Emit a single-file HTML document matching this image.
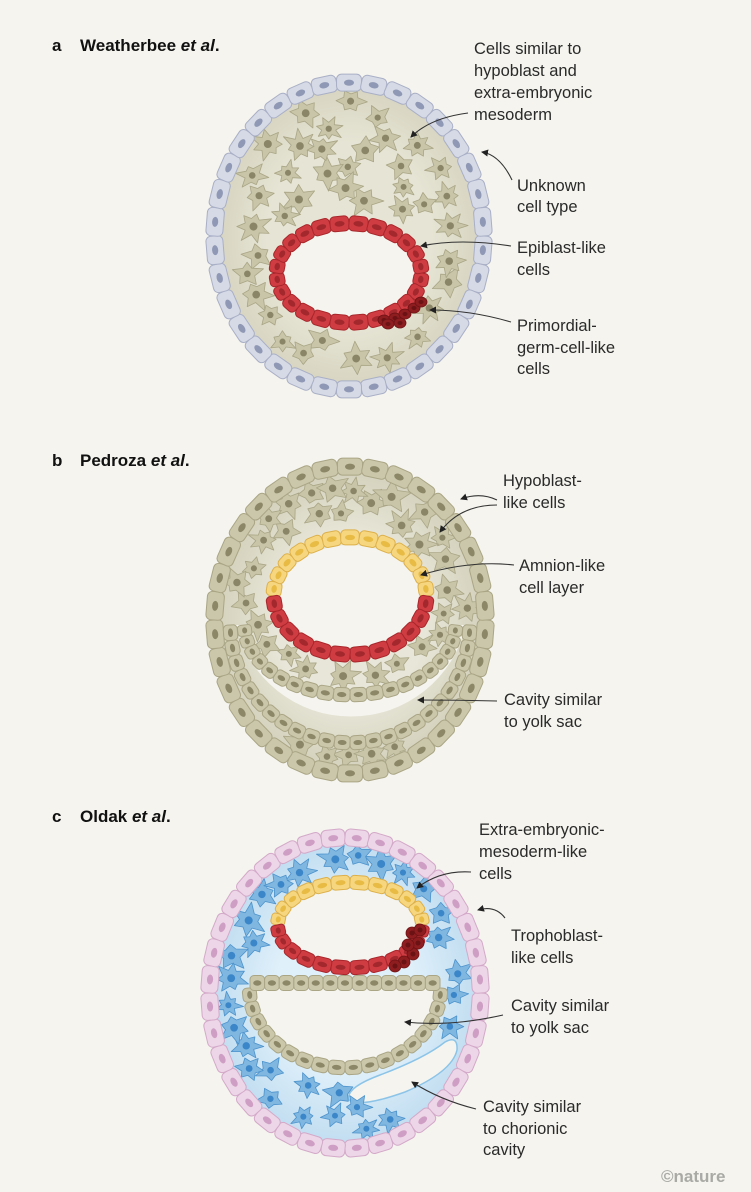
<!DOCTYPE html>
<html><head><meta charset="utf-8">
<style>
html,body{margin:0;padding:0;background:#f5f4ee;}
svg{display:block;}
text{font-family:"Liberation Sans",sans-serif;fill:#2a2a2a;}
.lb{font-size:16.5px;}
.h{font-size:17px;font-weight:bold;fill:#111;}
</style></head>
<body>
<svg id="s" width="751" height="1192" viewBox="0 0 751 1192" xmlns="http://www.w3.org/2000/svg">
<defs>
<marker id="ah" markerWidth="8" markerHeight="8" refX="6" refY="4" orient="auto" markerUnits="userSpaceOnUse">
<path d="M0,0.5 L7,4 L0,7.5 Z" fill="#222"/></marker>
<radialGradient id="ga" cx="50%" cy="50%" r="50%"><stop offset="0.6" stop-color="#e6e4d4"/><stop offset="1" stop-color="#d6d4bf"/></radialGradient>
<radialGradient id="gb" cx="50%" cy="50%" r="50%"><stop offset="0.55" stop-color="#e8e6d8"/><stop offset="1" stop-color="#d3d1bb"/></radialGradient>
<radialGradient id="gc" cx="50%" cy="50%" r="50%"><stop offset="0.5" stop-color="#e0f0fa"/><stop offset="1" stop-color="#bfdcf0"/></radialGradient>
</defs>
<g id="art"></g>
<g id="labels">
<text class="h" x="52" y="51">a</text><text class="h" x="80" y="51">Weatherbee <tspan font-style="italic">et al</tspan>.</text>
<text class="h" x="52" y="466">b</text><text class="h" x="80" y="466">Pedroza <tspan font-style="italic">et al</tspan>.</text>
<text class="h" x="52" y="822">c</text><text class="h" x="80" y="822">Oldak <tspan font-style="italic">et al</tspan>.</text>

<text class="lb" x="474" y="54">Cells similar to</text>
<text class="lb" x="474" y="76">hypoblast and</text>
<text class="lb" x="474" y="98">extra-embryonic</text>
<text class="lb" x="474" y="120">mesoderm</text>
<text class="lb" x="517" y="191">Unknown</text>
<text class="lb" x="517" y="212">cell type</text>
<text class="lb" x="517" y="253">Epiblast-like</text>
<text class="lb" x="517" y="275">cells</text>
<text class="lb" x="517" y="331">Primordial-</text>
<text class="lb" x="517" y="353">germ-cell-like</text>
<text class="lb" x="517" y="374">cells</text>

<text class="lb" x="503" y="486">Hypoblast-</text>
<text class="lb" x="503" y="508">like cells</text>
<text class="lb" x="519" y="571">Amnion-like</text>
<text class="lb" x="519" y="593">cell layer</text>
<text class="lb" x="504" y="705">Cavity similar</text>
<text class="lb" x="504" y="727">to yolk sac</text>

<text class="lb" x="479" y="835">Extra-embryonic-</text>
<text class="lb" x="479" y="857">mesoderm-like</text>
<text class="lb" x="479" y="879">cells</text>
<text class="lb" x="511" y="941">Trophoblast-</text>
<text class="lb" x="511" y="963">like cells</text>
<text class="lb" x="511" y="1011">Cavity similar</text>
<text class="lb" x="511" y="1033">to yolk sac</text>
<text class="lb" x="483" y="1112">Cavity similar</text>
<text class="lb" x="483" y="1134">to chorionic</text>
<text class="lb" x="483" y="1155">cavity</text>
<text x="661" y="1182" style="font-size:17px;font-weight:bold;fill:#a9a9a6">©nature</text>
</g>
<g id="arrows" fill="none" stroke="#333" stroke-width="1.1" marker-end="url(#ah)">
<path d="M468,113 Q430,118 411,137"/>
<path d="M512,180 Q500,155 482,152"/>
<path d="M511,246 Q460,238 421,246"/>
<path d="M511,322 Q470,310 430,310"/>
<path d="M497,500 Q480,492 461,499"/>
<path d="M497,505 Q460,505 440,532"/>
<path d="M514,565 Q470,560 421,575"/>
<path d="M497,701 Q460,700 418,700"/>
<path d="M471,872 Q440,870 417,888"/>
<path d="M505,918 Q495,905 478,910"/>
<path d="M503,1015 Q450,1027 405,1022"/>
<path d="M476,1109 Q440,1100 412,1082"/>
</g>
</svg>
<script>
(function(){
var NS="http://www.w3.org/2000/svg",art=document.getElementById('art');
function el(t,a,p){var e=document.createElementNS(NS,t);for(var k in a)e.setAttribute(k,a[k]);(p||art).appendChild(e);return e;}
var seed=7;function rnd(){seed=(seed*16807)%2147483647;return (seed-1)/2147483646;}
function ring(cx,cy,rx,ry,a0,a1,n,th,f,s,nf){
  var pts=[];for(var i=0;i<=n;i++){var t=a0+(a1-a0)*i/n;pts.push([cx+rx*Math.cos(t),cy+ry*Math.sin(t)]);}
  for(var i=0;i<n;i++){var p=pts[i],q=pts[i+1];var mx=(p[0]+q[0])/2,my=(p[1]+q[1])/2;
    var L=Math.hypot(q[0]-p[0],q[1]-p[1]);var ang=Math.atan2(q[1]-p[1],q[0]-p[0])*180/Math.PI;
    var g=el('g',{transform:'translate('+mx+','+my+') rotate('+ang+')'});
    el('rect',{x:-L/2,y:-th/2,width:L,height:th,rx:Math.min(L,th)*0.3,fill:f,stroke:s,'stroke-width':1},g);
    el('ellipse',{cx:0,cy:0,rx:Math.min(L*0.28,5),ry:th*0.18,fill:nf},g);}
}
function line(x0,y0,x1,y1,n,th,f,s,nf){
  var L=Math.hypot(x1-x0,y1-y0)/n,ang=Math.atan2(y1-y0,x1-x0)*180/Math.PI;
  for(var i=0;i<n;i++){var mx=x0+(x1-x0)*(i+.5)/n,my=y0+(y1-y0)*(i+.5)/n;
    var g=el('g',{transform:'translate('+mx+','+my+') rotate('+ang+')'});
    el('rect',{x:-L/2,y:-th/2,width:L,height:th,rx:4,fill:f,stroke:s,'stroke-width':1},g);
    el('ellipse',{cx:0,cy:0,rx:Math.min(L*0.28,5),ry:th*0.18,fill:nf},g);}
}
function star(x,y,r,f,s,nf){
  var k=5+Math.floor(rnd()*3),d='',rot=rnd()*6.28;
  for(var i=0;i<k*2;i++){var t=rot+i*Math.PI/k;var rr=(i%2?r*0.62:r*(0.85+rnd()*0.55));d+=(i?'L':'M')+(x+rr*Math.cos(t)).toFixed(1)+','+(y+rr*Math.sin(t)*0.9).toFixed(1);}
  el('path',{d:d+'Z',fill:f,stroke:s,'stroke-width':0.8,'stroke-linejoin':'round'});
  el('circle',{cx:x,cy:y,r:r*0.27,fill:nf});
}
function stars(cx,cy,rx,ry,n,ok,f,s,nf){
  var c=0,tries=0,pl=[];while(c<n&&tries<8000){tries++;var x=cx+(rnd()*2-1)*rx,y=cy+(rnd()*2-1)*ry;
    if(((x-cx)/rx)*((x-cx)/rx)+((y-cy)/ry)*((y-cy)/ry)>1)continue;if(!ok(x,y))continue;
    var bad=false;for(var j=0;j<pl.length;j++){if(Math.hypot(pl[j][0]-x,pl[j][1]-y)<21){bad=true;break;}}
    if(bad)continue;pl.push([x,y]);
    star(x,y,11+rnd()*4,f,s,nf);c++;}
}
function inE(x,y,cx,cy,rx,ry){return ((x-cx)/rx)*((x-cx)/rx)+((y-cy)/ry)*((y-cy)/ry)<1;}

// ---------- Panel a ----------
el('ellipse',{cx:349,cy:236,rx:136,ry:155,fill:'url(#ga)'});
seed=11;
stars(349,236,115,135,40,function(x,y){return !inE(x,y,349,273,92,68);},'#c8c5a8','#a9a586','#8a8566');
ring(349,236,135,154,0,Math.PI*2,34,17,'#d6dae6','#a9afc6','#8f98b4');
el('ellipse',{cx:349,cy:273,rx:66,ry:43,fill:'#f5f4ee'});
ring(349,273,73,50,0,Math.PI*2,24,15,'#cf3d42','#a8262b','#a2282e');
[[384,320],[395,318],[405,314],[414,308],[421,302],[400,323],[388,324]].forEach(function(p){
  el('ellipse',{cx:p[0],cy:p[1],rx:6,ry:5,fill:'#8e1d20',stroke:'#6e1214','stroke-width':0.8});
  el('ellipse',{cx:p[0],cy:p[1],rx:2.5,ry:2,fill:'#6a1214'});});

// ---------- Panel b ----------
el('ellipse',{cx:350,cy:620,rx:137,ry:154,fill:'url(#gb)'});
el('path',{d:'M236,625 A118,118 0 0 0 466,625 L455,625 A105,70 0 0 1 245,625 Z',fill:'#f5f4ee'});
seed=23;
stars(350,620,118,140,36,function(x,y){return !inE(x,y,350,596,94,76) && !(y>615 && inE(x,y,350,625,130,128) && !inE(x,y,350,625,94,56));},'#c8c5a8','#a9a586','#8a8566');
ring(350,620,136,154,0,Math.PI*2,34,17,'#cbc7aa','#a9a585','#8b8767');
ring(350,625,106,70,0,Math.PI,20,14,'#cbc7aa','#a9a585','#8b8767');
ring(350,625,120,118,0,Math.PI,24,14,'#cbc7aa','#a9a585','#8b8767');
el('ellipse',{cx:350,cy:596,rx:69,ry:51,fill:'#f5f4ee'});
ring(350,596,77,59,Math.PI,Math.PI*2,13,15,'#f6d780','#ddb04a','#e8bb45');
ring(350,596,77,59,0,Math.PI,12,15,'#cf3d42','#a8262b','#a2282e');

// ---------- Panel c ----------
el('ellipse',{cx:345,cy:993,rx:137,ry:157,fill:'url(#gc)'});
el('path',{d:'M349,1100 Q345,1088 380,1075 Q425,1058 445,1042 Q458,1035 457,1050 Q452,1072 405,1092 Q360,1108 349,1100 Z',fill:'#f5f4ee',stroke:'#8cc4e8','stroke-width':1.5});
seed=41;
stars(345,993,118,140,38,function(x,y){return !inE(x,y,350,925,90,58) && !inE(x,y,343,1000,110,90) && !(x>335&&y>1025&&y<1112&&x<470&&inE(x,y,405,1072,75,40));},'#7fb7e1','#4d93cc','#3b86c8');
ring(345,993,136,156,0,Math.PI*2,36,17,'#edd6e7','#d3a9c9','#cf9ec4');
el('path',{d:'M250,988 L440,988 A95,80 0 0 1 250,988 Z',fill:'#f5f4ee'});
ring(345,988,96,80,0,Math.PI,18,14,'#cbc7aa','#a9a585','#8b8767');
line(250,983,440,983,13,15,'#cbc7aa','#a9a585','#8b8767');
el('ellipse',{cx:350,cy:925,rx:65,ry:36,fill:'#f5f4ee'});
ring(350,925,73,43,Math.PI,Math.PI*2,12,14,'#f6d780','#ddb04a','#e8bb45');
ring(350,925,73,43,0,Math.PI,12,14,'#cf3d42','#a8262b','#a2282e');
[[412,933],[418,943],[413,954],[404,962],[395,966],[420,930],[408,945]].forEach(function(p){
  el('ellipse',{cx:p[0],cy:p[1],rx:6,ry:6,fill:'#8e1d20',stroke:'#6e1214','stroke-width':0.8});
  el('ellipse',{cx:p[0],cy:p[1],rx:2.5,ry:2.5,fill:'#6a1214'});});
})();
</script>
</body></html>
